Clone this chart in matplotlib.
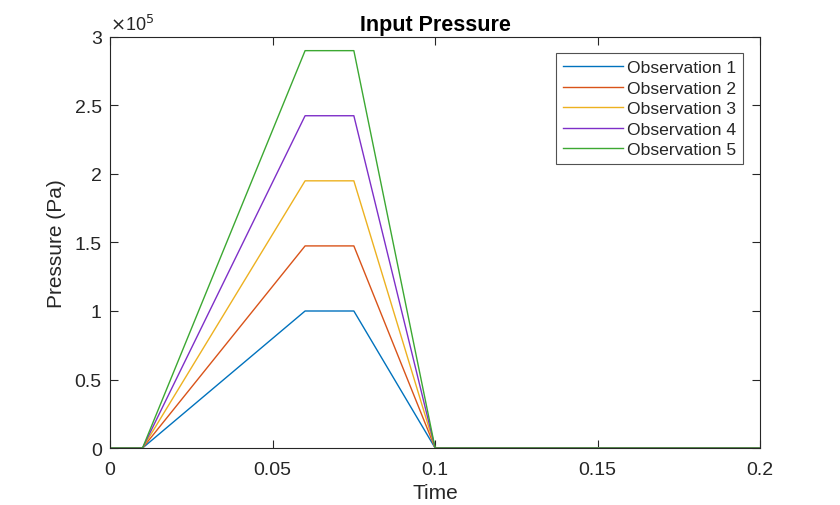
import matplotlib
matplotlib.use("Agg")
import matplotlib.pyplot as plt

plt.rcParams['font.family'] = ['Liberation Sans', 'DejaVu Sans']

# time breakpoints of the pressure profile (s)
time = [0.0, 0.01, 0.06, 0.075, 0.1, 0.2]
# pressure at those breakpoints for each observation (Pa)
obs1 = [0, 0, 1.0e5, 1.0e5, 0, 0]
obs2 = [0, 0, 1.475e5, 1.475e5, 0, 0]
obs3 = [0, 0, 1.95e5, 1.95e5, 0, 0]
obs4 = [0, 0, 2.425e5, 2.425e5, 0, 0]
obs5 = [0, 0, 2.9e5, 2.9e5, 0, 0]
labels = ['Observation 1', 'Observation 2', 'Observation 3', 'Observation 4', 'Observation 5']
colors = ['#0072BD', '#D95319', '#EDB120', '#7E2FC8', '#3CA832']

xticks = [0, 0.05, 0.1, 0.15, 0.2]
xtick_labels = ['0', '0.05', '0.1', '0.15', '0.2']
yticks = [0, 0.5e5, 1e5, 1.5e5, 2e5, 2.5e5, 3e5]
ytick_labels = ['0', '0.5', '1', '1.5', '2', '2.5', '3']

dark = '#262626'

fig = plt.figure(figsize=(8.4, 5.06), dpi=100)
ax = fig.add_axes([0.131, 0.1126, 0.774, 0.8124])

for ys, lab, c in zip([obs1, obs2, obs3, obs4, obs5], labels, colors):
    ax.plot(time, ys, color=c, linewidth=1.0, label=lab)

ax.set_xlim(0, 0.2)
ax.set_ylim(0, 3e5)
ax.set_xticks(xticks)
ax.set_xticklabels(xtick_labels)
ax.set_yticks(yticks)
ax.set_yticklabels(ytick_labels)
# exponent marker, MATLAB style
ax.text(0.0, 1.008, r'$\times$10$^5$', transform=ax.transAxes, fontsize=13,
        color=dark, va='bottom', ha='left')

ax.tick_params(direction='in', top=True, right=True, length=6, width=0.8,
               labelsize=14, colors=dark, pad=6)
ax.tick_params(axis='x', pad=9)
for s in ax.spines.values():
    s.set_color(dark)
    s.set_linewidth(0.8)

ax.set_xlabel('Time', fontsize=15, color=dark, labelpad=4)
ax.set_ylabel('Pressure (Pa)', fontsize=15, color=dark, labelpad=6)
ax.set_title('Input Pressure', fontsize=15.5, fontweight='bold', color='#000000', pad=5)

leg = ax.legend(loc='upper right', bbox_to_anchor=(0.974, 0.961), borderaxespad=0,
                fontsize=12.6, frameon=True, fancybox=False, edgecolor=dark,
                handlelength=3.4, labelspacing=0.3, borderpad=0.4,
                handletextpad=0.25)
leg.get_frame().set_linewidth(0.8)
for t in leg.get_texts():
    t.set_color(dark)

fig.savefig('out.png', dpi=100)
